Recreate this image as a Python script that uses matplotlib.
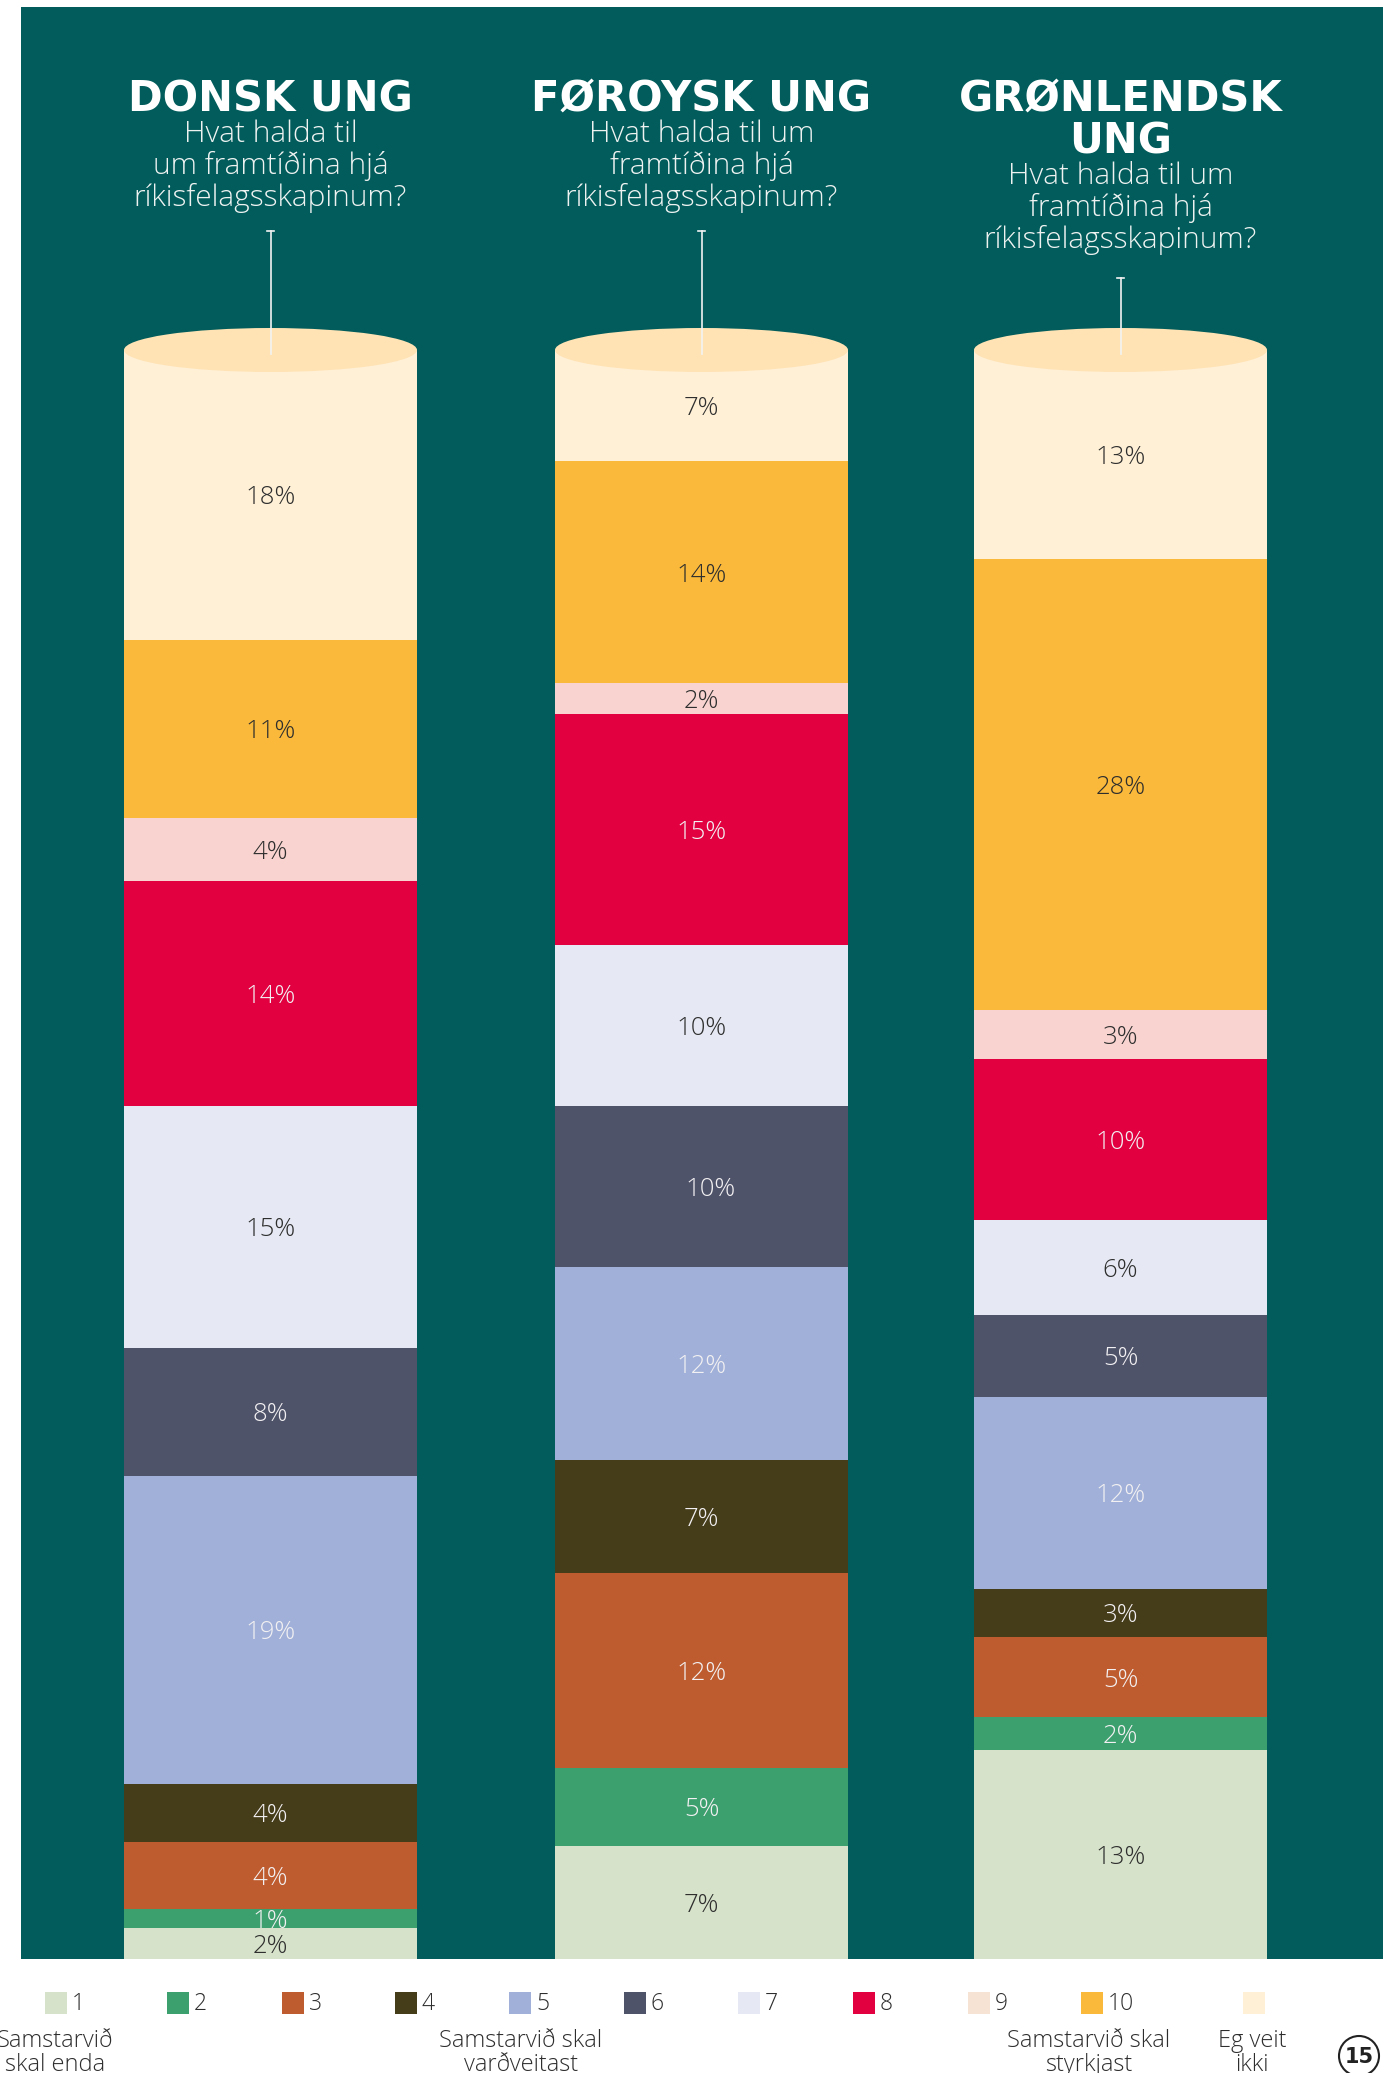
import numpy as np
import matplotlib.pyplot as plt
from matplotlib.patches import Rectangle, Ellipse, Circle

#==============================================================================
#                                DATA
#==============================================================================
kategoriir = ['1', '2', '3', '4', '5', '6', '7', '8', '9', '10', '']
# segment heights (labels are the printed, rounded ones)
donsk = [1.9, 1.2, 4.2, 3.6, 19.1, 8.0, 15.0, 14.0, 3.9, 11.1, 18.0]
foroysk = [7.0, 4.9, 12.1, 7.0, 12.0, 10.0, 10.0, 14.4, 1.9, 13.8, 6.9]
gronlendsk = [13.0, 2.0, 5.0, 3.0, 11.9, 5.1, 5.9, 10.0, 3.0, 28.0, 13.0]
donsk_lab = ['2%', '1%', '4%', '4%', '19%', '8%', '15%', '14%', '4%', '11%', '18%']
foroysk_lab = ['7%', '5%', '12%', '7%', '12%', '10%', '10%', '15%', '2%', '14%', '7%']
gronlendsk_lab = ['13%', '2%', '5%', '3%', '12%', '5%', '6%', '10%', '3%', '28%', '13%']

heiti = [['DONSK UNG'], ['FØROYSK UNG'], ['GRØNLENDSK', 'UNG']]
spurningur = [['Hvat halda til', 'um framtíðina hjá', 'ríkisfelagsskapinum?'],
              ['Hvat halda til um', 'framtíðina hjá', 'ríkisfelagsskapinum?'],
              ['Hvat halda til um', 'framtíðina hjá', 'ríkisfelagsskapinum?']]

skyring = ['Samstarvið\nskal enda', 'Samstarvið skal\nvarðveitast',
           'Samstarvið skal\nstyrkjast', 'Eg veit\nikki']

litir = ['#d6e2c9', '#3ba06e', '#bf5c2f', '#453c1a', '#a0b0d8', '#4f536a',
         '#e6e9f3', '#e30040', '#f8d3cf', '#fab93a', '#fff0d6']
legend_litir = ['#d6e2c9', '#3ba06e', '#bf5c2f', '#453c1a', '#a0b0d8', '#4f536a',
                '#e6e9f3', '#e30040', '#f6e3d4', '#fab93a', '#fff0d6']
MORKT = '#2e2e2e'
LJOST = '#f2f0f2'
tekstlitir = [MORKT, LJOST, LJOST, LJOST, LJOST, LJOST, MORKT, LJOST, MORKT, MORKT, MORKT]

GRONT = '#015c5b'
TOPPUR = '#ffe3b5'
LETT = 'Open Sans'

#==============================================================================
#                                LAYOUT (pixels)
#==============================================================================
W, H = 1400, 2073
bar_left = [124, 555, 974]
bar_w = 293
bar_top = 350
bar_bot = 1959
title_y = 99
pin_top = [231, 231, 278]

fig = plt.figure(figsize=(W / 100, H / 100), dpi=100)
bg = fig.add_axes([0, 0, 1, 1])
bg.set_xlim(0, W)
bg.set_ylim(H, 0)
bg.axis('off')

bg.add_patch(Rectangle((21, 7), 1383 - 21, bar_bot - 7, color=GRONT, lw=0))

bar_h = bar_bot - bar_top
for k, (vals, labs) in enumerate([(donsk, donsk_lab), (foroysk, foroysk_lab),
                                  (gronlendsk, gronlendsk_lab)]):
    cx = bar_left[k] + bar_w / 2
    # yvirskriftir
    y = title_y
    for line in heiti[k]:
        bg.text(cx, y, line, ha='center', va='center', color='white',
                fontsize=30, fontweight='heavy', family='DejaVu Sans')
        y += 42
    y = y - 42 + 35
    for line in spurningur[k]:
        bg.text(cx, y, line, ha='center', va='center', color='#eef3f2',
                fontsize=21.5, fontweight='light', family=LETT)
        y += 32

    total = sum(vals)
    ax = fig.add_axes([bar_left[k] / W, (H - bar_bot) / H, bar_w / W, bar_h / H])
    ax.set_xlim(-0.5, 0.5)
    ax.set_ylim(0, total)
    ax.axis('off')
    px = total / bar_h  # data units per pixel
    botn = np.cumsum([0] + vals[:-1])
    ax.bar(0, vals, bottom=botn, width=1, color=litir, linewidth=0)
    for i, v in enumerate(vals):
        dx = 0.03 if (k == 1 and i == 5) else 0
        ax.text(dx, botn[i] + v / 2 - 3 * px, labs[i], ha='center', va='center',
                color=tekstlitir[i], fontsize=18.5, fontweight='light',
                family=LETT)
    ax.add_patch(Ellipse((0, total), 1, 44 * px, color=TOPPUR, lw=0,
                         clip_on=False, zorder=3))
    ax.plot([0, 0], [total - 4 * px, total + (bar_top - pin_top[k]) * px],
            color='#f2f2f2', lw=1.2, clip_on=False, zorder=4)
    ax.plot([-0.012, 0.012], [total + (bar_top - pin_top[k]) * px] * 2,
            color='#f2f2f2', lw=1.2, clip_on=False, zorder=4)

#==============================================================================
#                                LEGEND
#==============================================================================
leg_x = [45, 167, 282, 395, 509, 624, 738, 853, 968, 1081, 1243]
for i, lab in enumerate(kategoriir):
    bg.add_patch(Rectangle((leg_x[i], 1992), 22, 22, color=legend_litir[i], lw=0))
    if lab:
        bg.text(leg_x[i] + 27, 2004, lab, ha='left', va='center', color=MORKT,
                fontsize=16.5, fontweight='light', family=LETT)

skyring_x = [55, 521, 1089, 1252]
for t, x in zip(skyring, skyring_x):
    bg.text(x, 2053, t, ha='center', va='center', color=MORKT, fontsize=17,
            fontweight='light', family=LETT, linespacing=0.95)

bg.add_patch(Circle((1359, 2056), 20, fill=False, ec='#222222', lw=1.5))
bg.text(1359, 2057, '15', ha='center', va='center', color='#222222',
        fontsize=15, fontweight='bold', family='DejaVu Sans')

fig.savefig('out.png', dpi=100, facecolor='white')
